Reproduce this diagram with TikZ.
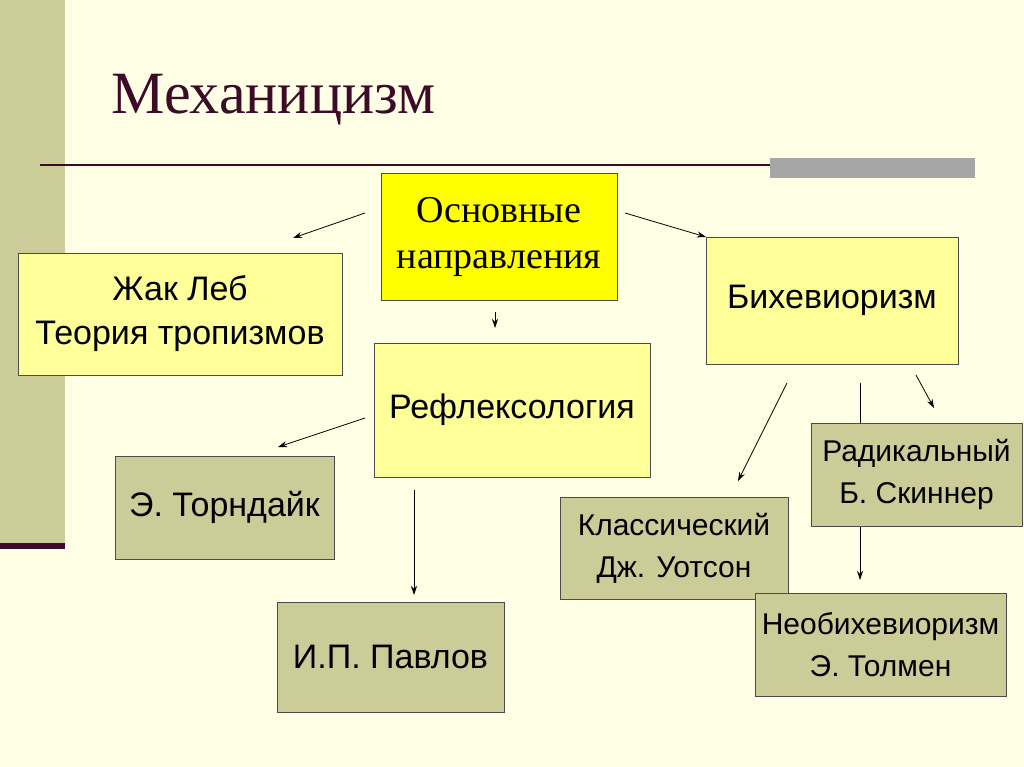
\documentclass[tikz,border=0pt]{standalone}
\usepackage{fontspec}
\setmainfont{Liberation Serif}
\setsansfont{Liberation Sans}
\usetikzlibrary{arrows.meta}
\definecolor{bg}{HTML}{FFFFE6}
\definecolor{stripe}{HTML}{CCCC99}
\definecolor{maroon}{HTML}{3D0A28}
\definecolor{ybright}{HTML}{FFFF00}
\definecolor{ylight}{HTML}{FFFF99}
\definecolor{khaki}{HTML}{CCCC99}
\tikzset{
  box/.style={draw=black!70, line width=0.8pt, align=center, inner sep=0pt, font=\sffamily\fontsize{34}{44}\selectfont},
  kbox/.style={box, fill=khaki, font=\sffamily\fontsize{30}{42}\selectfont},
  arr/.style={-{Stealth[length=9pt,width=6pt]}, line width=0.8pt}
}
\newcommand{\bx}[6]{\node[#1, minimum width=#4-#2, minimum height=#5-#3] (#6) at ({(#2+#4)/2},{(#3+#5)/2})}
\begin{document}
\begin{tikzpicture}[x=1pt,y=-1pt]
\fill[bg] (0,0) rectangle (1024,767);
\useasboundingbox (0,0) rectangle (1024,767);
\fill[stripe] (0,0) rectangle (65,545);
\fill[maroon] (0,543) rectangle (65,549);
\draw[maroon, line width=2pt] (40,165) -- (975,165);
\fill[black!35] (770,158) rectangle (975,178);
\node[anchor=west, text=maroon, font=\fontsize{60}{70}\selectfont] (title) at (108,100) {Механицизм};
\bx{box,fill=ybright,font=\rmfamily\fontsize{38}{46}\selectfont}{381}{173}{617}{300}{osn} {Основные\\направления};
\bx{box,fill=ylight}{18}{253}{342}{375}{leb} {Жак Леб\\Теория тропизмов};
\bx{box,fill=ylight}{706}{237}{958}{364}{bih} {Бихевиоризм};
\bx{box,fill=ylight}{374}{343}{650}{477}{ref} {Рефлексология};
\bx{kbox,font=\sffamily\fontsize{34}{44}\selectfont}{115}{456}{334}{559}{tor} {Э. Торндайк};
\bx{kbox,font=\sffamily\fontsize{34}{44}\selectfont}{277}{602}{504}{712}{pav} {И.П. Павлов};
\bx{kbox}{560}{497}{788}{599}{kla} {Классический\\Дж. Уотсон};
\bx{kbox}{755}{593}{1006}{696}{neo} {Необихевиоризм\\Э. Толмен};
\coordinate (a1) at (365,213); \coordinate (b1) at (293,238);
\coordinate (a2) at (625,213); \coordinate (b2) at (706,237);
\coordinate (a3) at (495,312); \coordinate (b3) at (495,328);
\coordinate (a4) at (365,418); \coordinate (b4) at (278,447);
\coordinate (a5) at (414,490); \coordinate (b5) at (414,595);
\coordinate (a6) at (787,383); \coordinate (b6) at (738,481);
\coordinate (a7) at (860,383); \coordinate (b7) at (860,580);
\coordinate (a8) at (916,375); \coordinate (b8) at (934,408);
\foreach \i in {1,...,8} \draw[arr] (a\i) -- (b\i);
\bx{kbox}{811}{423}{1022}{526}{rad} {Радикальный\\Б. Скиннер};
\end{tikzpicture}
\end{document}
